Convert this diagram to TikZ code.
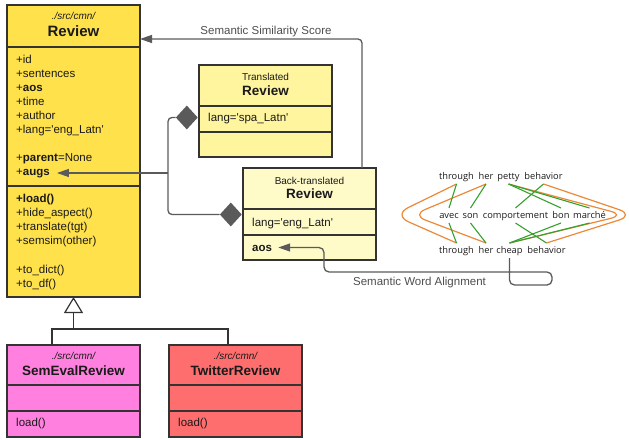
\documentclass[tikz,border=0pt]{standalone}
\usepackage{fontspec}
\setmainfont{Liberation Sans}
\newfontfamily\qfont{Liberation Sans}
\newfontfamily\alignfont{Open Sans}
\usetikzlibrary{shapes.geometric,arrows.meta}
\definecolor{revY}{HTML}{FFE14C}
\definecolor{trY}{HTML}{FFF59E}
\definecolor{btY}{HTML}{FFFBC9}
\definecolor{semP}{HTML}{FF80DF}
\definecolor{twR}{HTML}{FF6E6E}
\definecolor{edgec}{HTML}{333333}
\definecolor{connc}{HTML}{5A5A5A}
\definecolor{txtc}{HTML}{1A1A1A}
\definecolor{lblc}{HTML}{4D4D4D}
\definecolor{algO}{HTML}{EC8836}
\definecolor{algG}{HTML}{35A02E}
\newcommand{\sq}{{\qfont'}}
\begin{document}
\begin{tikzpicture}[x=1pt,y=-1pt,
  umlbox/.style={draw=edgec,line width=1.2pt,rectangle,inner sep=0,outer sep=0,anchor=north west,minimum width=133pt,minimum height=#1},
  umlbox/.default=92pt,
  divider/.style={draw=edgec,line width=1.2pt},
  attr/.style={anchor=base west,inner sep=0,font=\fontsize{11.5}{13}\selectfont,text=txtc},
  battr/.style={attr,font=\fontsize{11.5}{13}\selectfont\bfseries},
  pth/.style={anchor=base,inner sep=0,font=\fontsize{10}{12}\selectfont\itshape,text=txtc},
  smalltxt/.style={anchor=base,inner sep=0,font=\fontsize{10}{12}\selectfont,text=txtc},
  ttl/.style={anchor=base,inner sep=0,font=\fontsize{13.5}{15}\selectfont\bfseries,text=txtc},
  bigttl/.style={ttl,font=\fontsize{15}{17}\selectfont\bfseries},
  conn/.style={draw=connc,line width=1.3pt},
  arrowhd/.style={-{Triangle[length=12pt,width=8pt]}},
  gen/.style={draw=edgec,line width=1.2pt},
  dia/.style={diamond,fill=connc,inner sep=0,minimum width=22pt,minimum height=24pt,anchor=east},
  wrd/.style={anchor=base,inner sep=0,outer sep=3pt,text height=7pt,text depth=2pt,font=\alignfont\fontsize{9.3}{11}\selectfont,text=txtc},
  ora/.style={draw=algO,line width=1.2pt},
  grn/.style={draw=algG,line width=1.1pt},
  lbl/.style={anchor=base,inner sep=0,font=\fontsize{11.5}{13}\selectfont,text=lblc}
]
\useasboundingbox (0,0) rectangle (629,439);

% ---------- Review ----------
\node[umlbox=292pt,fill=revY] (rev) at (7,5) {};
\draw[divider] (rev.west |- 0,47) -- (rev.east |- 0,47);
\draw[divider] (rev.west |- 0,186) -- (rev.east |- 0,186);
\node[pth] (revpath) at (73.5,19.5) {./src/cmn/};
\node[bigttl] (revttl) at (73.5,36.4) {Review};
\node[attr] (aid) at (16,63) {+id};
\node[attr] (asen) at (16,77.1) {+sentences};
\node[attr] (aaos) at (16,91.2) {+\textbf{aos}};
\node[attr] (atime) at (16,105.3) {+time};
\node[attr] (aauth) at (16,119.4) {+author};
\node[attr] (alang) at (16,133.5) {+lang=\sq eng\_Latn\sq};
\node[attr] (apar) at (16,161.7) {+\textbf{parent}=None};
\node[attr] (aaugs) at (16,175.8) {+\textbf{augs}};
\node[battr] (mload) at (16,202) {+load()};
\node[attr] (mhide) at (16,216.2) {+hide\_aspect()};
\node[attr] (mtrans) at (16,230.4) {+translate(tgt)};
\node[attr] (msem) at (16,244.6) {+semsim(other)};
\node[attr] (mdict) at (16,273) {+to\_dict()};
\node[attr] (mdf) at (16,287.2) {+to\_df()};

% ---------- Translated Review ----------
\node[umlbox,fill=trY] (tr) at (199,65) {};
\draw[divider] (tr.west |- 0,106) -- (tr.east |- 0,106);
\draw[divider] (tr.west |- 0,132) -- (tr.east |- 0,132);
\node[smalltxt] (trsub) at (265.5,80) {Translated};
\node[ttl] (trttl) at (265.5,95) {Review};
\node[attr] (trlang) at (208,121.3) {lang=\sq spa\_Latn\sq};

% ---------- Back-translated Review ----------
\node[umlbox,fill=btY] (bt) at (243,168) {};
\draw[divider] (bt.west |- 0,209) -- (bt.east |- 0,209);
\draw[divider] (bt.west |- 0,235) -- (bt.east |- 0,235);
\node[smalltxt] (btsub) at (309.5,184) {Back-translated};
\node[ttl] (btttl) at (309.5,198) {Review};
\node[attr] (btlang) at (252,226) {lang=\sq eng\_Latn\sq};
\node[battr] (baos) at (252,251) {aos};

% ---------- composition diamonds ----------
\node[dia] (d1) at (198,117.5) {};
\node[dia] (d2) at (242,214.5) {};
\coordinate (aj) at (168,173);
\coordinate (augtip) at ([xshift=7pt]aaugs.east);
\draw[conn,rounded corners=4pt] (d1.west) -| (aj) |- (d2.west);
\draw[conn,arrowhd] (aj) -- (augtip |- aj);

% ---------- semantic similarity ----------
\coordinate (simstart) at ([xshift=52.5pt]bt.north);
\draw[conn,arrowhd,rounded corners=4pt] (simstart) |- (rev.east |- 0,39);
\node[lbl] (simlbl) at (266,34) {Semantic Similarity Score};

% ---------- word alignment ----------
\node[wrd] (t1) at (456.5,179) {through};
\node[wrd] (t2) at (486,179) {her};
\node[wrd] (t3) at (508.5,179) {petty};
\node[wrd] (t4) at (543.5,179) {behavior};
\node[wrd] (m1) at (449,218) {avec};
\node[wrd] (m2) at (470.5,218) {son};
\node[wrd] (m3) at (515.5,218) {comportement};
\node[wrd] (m4) at (561,218) {bon};
\node[wrd] (m5) at (589.5,218) {marché};
\node[wrd] (b1) at (456.5,253) {through};
\node[wrd] (b2) at (486,253) {her};
\node[wrd] (b3) at (509.5,253) {cheap};
\node[wrd] (b4) at (546.5,253) {behavior};

\coordinate (lo) at (393,215);
\coordinate (li) at (412,215);
\coordinate (ri) at (624.5,215);
\coordinate (ro) at (635,215);
\draw[ora,rounded corners=17pt] (t1.south) -- (lo) -- (b1.north);
\draw[ora,rounded corners=14pt] (t2.south) -- (li) -- (b2.north);
\draw[ora,rounded corners=14pt] (t3.south) -- (ri) -- (b3.north);
\draw[ora,rounded corners=17pt] (t4.south) -- (ro) -- (b4.north);

\draw[grn] (t1.south) -- (m1.north);
\draw[grn] (t2.south) -- (m2.north);
\draw[grn] (t3.south) -- (m4.north);
\draw[grn] (t3.south) -- (m5.north);
\draw[grn] (t4.south) -- (m3.north);
\draw[grn] (m1.south) -- (b1.north);
\draw[grn] (m2.south) -- (b2.north);
\draw[grn] (m4.south) -- (b3.north);
\draw[grn] (m5.south) -- (b3.north);
\draw[grn] (m3.south) -- (b4.north);

\coordinate (aostip) at ([xshift=6pt]baos.east);
\draw[conn,arrowhd,rounded corners=5pt] (b3.south) -- (b3.south |- 0,285) -- (552,285) -- (552,272) -- (324,272) -- (324,247.5) -- (aostip |- 0,247.5);
\node[lbl] (walbl) at (419.5,285) {Semantic Word Alignment};

% ---------- subclasses ----------
\node[umlbox,fill=semP] (sem) at (7,345) {};
\draw[divider] (sem.west |- 0,385) -- (sem.east |- 0,385);
\draw[divider] (sem.west |- 0,411) -- (sem.east |- 0,411);
\node[pth] (sempath) at (73.5,359.5) {./src/cmn/};
\node[ttl] (semttl) at (73.5,375) {SemEvalReview};
\node[attr] (semload) at (16,426.5) {load()};

\node[umlbox,fill=twR] (tw) at (169,345) {};
\draw[divider] (tw.west |- 0,385) -- (tw.east |- 0,385);
\draw[divider] (tw.west |- 0,411) -- (tw.east |- 0,411);
\node[pth] (twpath) at (235.5,359.5) {./src/cmn/};
\node[ttl] (twttl) at (235.5,375) {TwitterReview};
\node[attr] (twload) at (178,426.5) {load()};

\coordinate (gl) at (52,329);
\coordinate (gr) at (228,329);
\coordinate (gj) at (73.5,329);
\draw[gen] (gl |- sem.north) -- (gl) -- (gr) -- (gr |- tw.north);
\draw[gen,-{Triangle[open,length=16pt,width=19pt]}] (gj) -- (rev.south);
\end{tikzpicture}
\end{document}
